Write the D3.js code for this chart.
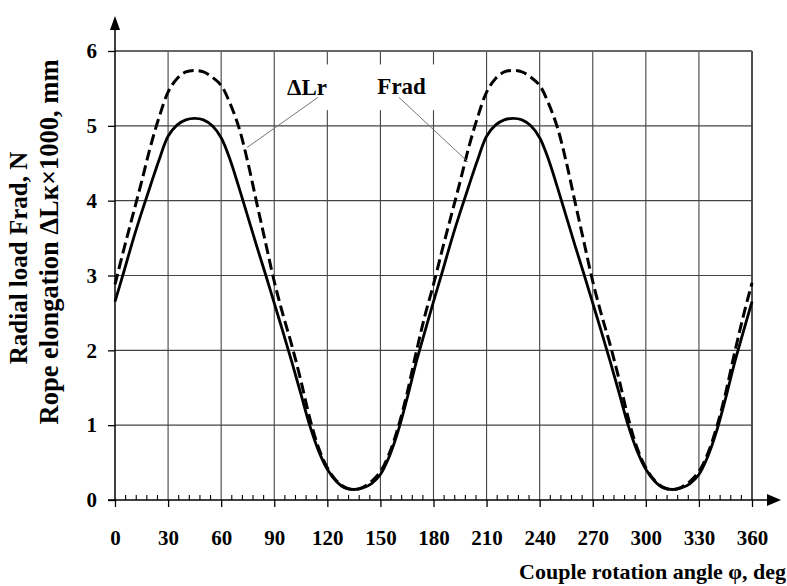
<!DOCTYPE html>
<html>
<head>
	<meta charset='utf-8' />
	<title></title>
	<script src="https://d3js.org/d3.v7.min.js"></script>
	<style>
		body {
			margin: 0;
			background: #fff;
		}

		svg text {
			font-family: "Liberation Serif", "Times New Roman", serif;
			font-weight: bold;
			fill: #000;
		}
	</style>
</head>
<body>
	<svg id="chart" width="787" height="586"></svg>
	<script>
		// rotation angle, deg
		var angles = [0, 5, 10, 15, 20, 25, 30, 35, 40, 45, 50, 55, 60, 65, 70, 75, 80, 85, 90,
			95, 100, 105, 110, 115, 120, 125, 130, 135, 140, 145, 150, 155, 160, 165, 170, 175, 180,
			185, 190, 195, 200, 205, 210, 215, 220, 225, 230, 235, 240, 245, 250, 255, 260, 265, 270,
			275, 280, 285, 290, 295, 300, 305, 310, 315, 320, 325, 330, 335, 340, 345, 350, 355, 360];

		// radial load Frad, N (solid)
		var frad = [2.65, 3.05, 3.46, 3.84, 4.2, 4.55, 4.86, 5.01, 5.08, 5.1, 5.08, 5.0, 4.84, 4.55, 4.18, 3.79, 3.4, 3.02, 2.63,
			2.24, 1.84, 1.42, 1.0, 0.66, 0.41, 0.25, 0.16, 0.14, 0.16, 0.22, 0.34, 0.58, 0.92, 1.35, 1.82, 2.24, 2.65,
			3.05, 3.46, 3.84, 4.2, 4.55, 4.86, 5.01, 5.08, 5.1, 5.08, 5.0, 4.84, 4.55, 4.18, 3.79, 3.4, 3.02, 2.63,
			2.24, 1.84, 1.42, 1.0, 0.66, 0.41, 0.25, 0.16, 0.14, 0.16, 0.22, 0.34, 0.58, 0.92, 1.35, 1.82, 2.24, 2.65];

		// rope elongation dLr x 1000, mm (dashed)
		var dLr = [2.88, 3.35, 3.8, 4.25, 4.72, 5.12, 5.45, 5.63, 5.72, 5.74, 5.72, 5.65, 5.54, 5.3, 4.98, 4.52, 3.98, 3.45, 2.92,
			2.47, 2.06, 1.6, 1.1, 0.7, 0.43, 0.26, 0.17, 0.14, 0.17, 0.25, 0.38, 0.62, 0.97, 1.42, 1.95, 2.45, 2.88,
			3.35, 3.8, 4.25, 4.72, 5.12, 5.45, 5.63, 5.72, 5.74, 5.72, 5.65, 5.54, 5.3, 4.98, 4.52, 3.98, 3.45, 2.92,
			2.47, 2.06, 1.6, 1.1, 0.7, 0.43, 0.26, 0.17, 0.14, 0.17, 0.25, 0.38, 0.62, 0.97, 1.42, 1.95, 2.45, 2.9];

		var xTicks = [0, 30, 60, 90, 120, 150, 180, 210, 240, 270, 300, 330, 360];
		var xMinor = [6, 12, 18, 24, 36, 42, 48, 54, 66, 72, 78, 84, 96, 102, 108, 114, 126, 132, 138, 144,
			156, 162, 168, 174, 186, 192, 198, 204, 216, 222, 228, 234, 246, 252, 258, 264, 276, 282, 288, 294,
			306, 312, 318, 324, 336, 342, 348, 354];
		var yTicks = [0, 1, 2, 3, 4, 5, 6];

		// label: [angle, value] text position, leader from -> to
		var labels = [
			{ text: "ΔLr", at: [108.5, 5.41], from: [114.7, 5.38], to: [74.6, 4.71] },
			{ text: "Frad", at: [162, 5.43], from: [160.5, 5.38], to: [199.4, 4.52] }
		];

		var svg = d3.select("#chart");

		svg.append("rect").attr("width", 787).attr("height", 586).attr("fill", "#fff");

		var x = d3.scaleLinear().domain([0, 360]).range([115, 752]);
		var y = d3.scaleLinear().domain([0, 6]).range([500, 51]);

		// grid
		svg.append("g").selectAll("line")
			.data(xTicks.slice(1))
			.enter().append("line")
			.attr("x1", d => x(d)).attr("x2", d => x(d))
			.attr("y1", y(0)).attr("y2", y(6))
			.attr("stroke", d => d == 360 ? "#222" : "#444")
			.attr("stroke-width", d => d == 360 ? 1.6 : 1.1);

		svg.append("g").selectAll("line")
			.data(yTicks.slice(1))
			.enter().append("line")
			.attr("x1", x(0)).attr("x2", x(360))
			.attr("y1", d => y(d)).attr("y2", d => y(d))
			.attr("stroke", d => d == 6 ? "#666" : "#444")
			.attr("stroke-width", d => d == 6 ? 2 : 1.1);

		// white box behind labels
		svg.append("rect")
			.attr("x", x(93.5)).attr("y", y(5.82))
			.attr("width", x(183.6) - x(93.5))
			.attr("height", y(5.21) - y(5.82))
			.attr("fill", "#fff");

		// axes
		var xAxis = svg.append("g")
			.attr("transform", `translate(0,${y(0)})`)
			.call(d3.axisBottom(x).tickValues(xTicks).tickSize(7).tickPadding(23).tickSizeOuter(0));

		var yAxis = svg.append("g")
			.attr("transform", `translate(${x(0)},0)`)
			.call(d3.axisLeft(y).tickValues(yTicks).tickFormat(d3.format("d")).tickSize(7).tickPadding(11).tickSizeOuter(0));

		svg.selectAll(".domain").remove();
		svg.selectAll(".tick line").attr("stroke", "#000").attr("stroke-width", 1.3);
		svg.selectAll(".tick text")
			.style("font-size", "21px")
			.style("font-family", "'Liberation Serif', serif")
			.style("font-weight", "bold")
			.attr("fill", "#000");

		svg.append("g").selectAll("line")
			.data(xMinor)
			.enter().append("line")
			.attr("x1", d => x(d)).attr("x2", d => x(d))
			.attr("y1", y(0)).attr("y2", y(0) - 5)
			.attr("stroke", "#000")
			.attr("stroke-width", 1.1);

		// axis lines with arrows
		svg.append("line")
			.attr("x1", x(0) - 7).attr("x2", 772)
			.attr("y1", y(0)).attr("y2", y(0))
			.attr("stroke", "#000").attr("stroke-width", 1.5);
		svg.append("path")
			.attr("d", `M781,${y(0)} L767,${y(0) - 6} L767,${y(0) + 6} Z`)
			.attr("fill", "#000");

		svg.append("line")
			.attr("x1", x(0)).attr("x2", x(0))
			.attr("y1", y(0)).attr("y2", 26)
			.attr("stroke", "#000").attr("stroke-width", 1.5);
		svg.append("path")
			.attr("d", `M${x(0)},16 L${x(0) - 5},30 L${x(0) + 5},30 Z`)
			.attr("fill", "#000");

		// curves
		var line = d3.line()
			.x((d, i) => x(angles[i]))
			.y(d => y(d))
			.curve(d3.curveCatmullRom);

		svg.append("path")
			.datum(dLr)
			.attr("d", line)
			.attr("fill", "none")
			.attr("stroke", "#000")
			.attr("stroke-width", 3)
			.attr("stroke-dasharray", "11,5");

		svg.append("path")
			.datum(frad)
			.attr("d", line)
			.attr("fill", "none")
			.attr("stroke", "#000")
			.attr("stroke-width", 2.8);

		// labels with leaders
		svg.append("g").selectAll("line")
			.data(labels)
			.enter().append("line")
			.attr("x1", d => x(d.from[0])).attr("y1", d => y(d.from[1]))
			.attr("x2", d => x(d.to[0])).attr("y2", d => y(d.to[1]))
			.attr("stroke", "#777")
			.attr("stroke-width", 1);

		svg.append("g").selectAll("text")
			.data(labels)
			.enter().append("text")
			.attr("x", d => x(d.at[0]))
			.attr("y", d => y(d.at[1]))
			.attr("text-anchor", "middle")
			.style("font-size", "23px")
			.text(d => d.text);

		// axis titles
		svg.append("text")
			.attr("x", 786).attr("y", 579)
			.attr("text-anchor", "end")
			.style("font-size", "22px")
			.text("Couple rotation angle φ, deg");

		svg.append("text")
			.attr("transform", "translate(27,258) rotate(-90)")
			.attr("text-anchor", "middle")
			.style("font-size", "25px")
			.text("Radial load Frad, N");

		svg.append("text")
			.attr("transform", "translate(58,242) rotate(-90)")
			.attr("text-anchor", "middle")
			.style("font-size", "26.5px")
			.text("Rope elongation ΔLк×1000, mm");
	</script>
</body>
</html>
